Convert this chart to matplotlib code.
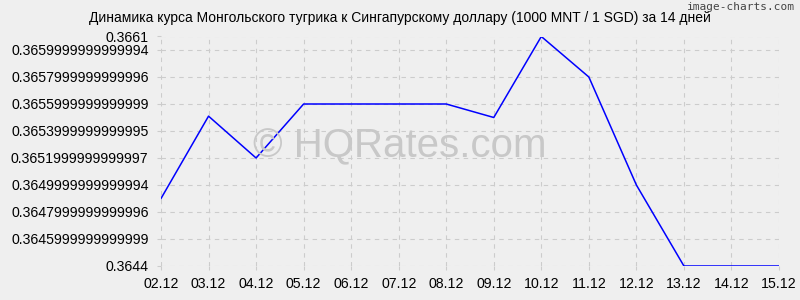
import matplotlib
matplotlib.use("Agg")
import matplotlib.pyplot as plt

dates = ["02.12", "03.12", "04.12", "05.12", "06.12", "07.12", "08.12",
         "09.12", "10.12", "11.12", "12.12", "13.12", "14.12", "15.12"]
rates = [0.36490, 0.36551, 0.36520, 0.36560, 0.36560, 0.36560, 0.36560,
         0.36550, 0.36610, 0.36580, 0.36500, 0.36440, 0.36440, 0.36440]
ytick_values = [0.3644, 0.3646, 0.3648, 0.3650, 0.3652, 0.3654, 0.3656, 0.3658, 0.3660, 0.3661]
ytick_labels = ["0.3644", "0.3645999999999999", "0.3647999999999996", "0.3649999999999994",
                "0.3651999999999997", "0.3653999999999995", "0.3655999999999999",
                "0.3657999999999996", "0.3659999999999994", "0.3661"]
title = "Динамика курса Монгольского тугрика к Сингапурскому доллару (1000 MNT / 1 SGD) за 14 дней"

plt.rcParams['font.family'] = ['Liberation Sans', 'DejaVu Sans']
bg = "#efefef"
fig = plt.figure(figsize=(8, 3), dpi=100, facecolor=bg)
ax = fig.add_axes([161/800, 1-266/300, (779-161)/800, (266-36.5)/300])
ax.set_facecolor(bg)

x = list(range(len(dates)))
ax.plot(x, rates, color="#0000ff", linewidth=1.1, zorder=3)

ax.set_xlim(0, len(dates) - 1)
ax.set_ylim(0.3644, 0.3661)
ax.set_xticks(x)
ax.set_xticklabels(dates, fontsize=10.2)
ax.set_yticks(ytick_values)
ax.set_yticklabels(ytick_labels, fontsize=10.2)
ax.tick_params(axis='both', length=3, color="#cccccc")
ax.tick_params(axis='y', pad=6)
ax.tick_params(axis='x', pad=5)
ax.grid(True, color="#cccccc", linestyle=(0, (4, 4)), linewidth=0.8)
for s in ax.spines.values():
    s.set_visible(False)

fig.text(0.5, 1-146/300, "© HQRates.com", ha="center", va="center",
         fontsize=29, color="#c8c8c8", zorder=1)

fig.text(0.5, 1-18/300, title, ha="center", va="center", fontsize=10, color="#000000")
fig.text(0.994, 1-7/300, "image-charts.com", ha="right", va="center", fontsize=8,
         color="#444444", family="DejaVu Sans Mono")

fig.savefig("out.png", dpi=100, facecolor=bg)
